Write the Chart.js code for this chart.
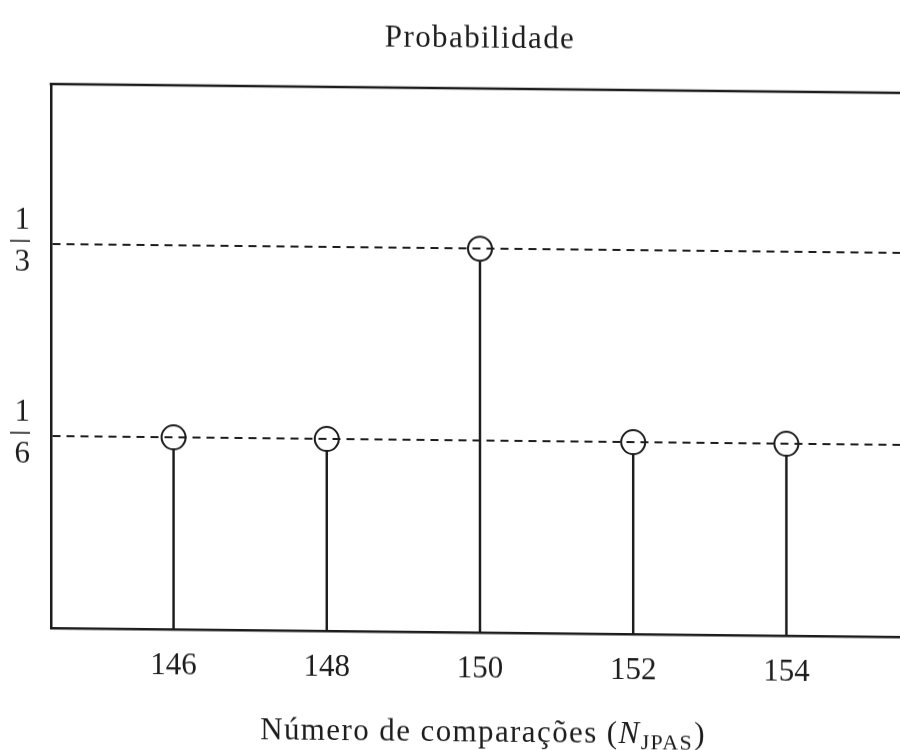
<!DOCTYPE html>
<html>
<head>
<meta charset="utf-8">
<script src="https://cdn.jsdelivr.net/npm/chart.js@4.4.1/dist/chart.umd.min.js"></script>
<style>
  html, body { margin: 0; padding: 0; background: #fff; overflow: hidden; width: 900px; height: 750px; }
  #wrap { position: absolute; left: 0; top: 0; width: 960px; height: 750px;
          transform-origin: 50px 0; transform: skewY(0.6deg); }
</style>
</head>
<body>
<div id="wrap"><canvas id="c" width="960" height="750"></canvas></div>
<script>
// Stem plot: probability of each number of comparisons
const comparisons = [146, 148, 150, 152, 154];
const probability = [1/6, 1/6, 1/3, 1/6, 1/6];
const xTickValues = [146, 148, 150, 152, 154];
const yTickValues = [1/6, 1/3];
const yTickLabels = [['1', '6'], ['1', '3']];
const titleText = 'Probabilidade';
const xLabelMain = 'Número de comparações (';
const xLabelVar = 'N';
const xLabelSub = 'JPAS';
const xLabelEnd = ')';

const INK = '#1c1c1c';
const SERIF = '"Liberation Serif", "DejaVu Serif", serif';
const TEXT_SIZE = 31;
const SPACING = 1.4; // extra tracking for the wider look of the labels

const points = comparisons.map((x, i) => ({ x, y: probability[i] }));

function setSpacing(ctx, px) {
  if ('letterSpacing' in ctx) ctx.letterSpacing = px + 'px';
}

const decorations = {
  id: 'decorations',
  afterDraw(chart) {
    const { ctx, chartArea: a, scales } = chart;
    const cx = (a.left + a.right) / 2;
    ctx.save();
    // top edge of the frame
    ctx.strokeStyle = INK;
    ctx.lineWidth = 2.5;
    ctx.beginPath();
    ctx.moveTo(a.left - 1.25, a.top);
    ctx.lineTo(a.right, a.top);
    ctx.stroke();

    // fraction bars of the y tick labels
    ctx.lineWidth = 1.6;
    yTickValues.forEach(v => {
      const y = scales.y.getPixelForValue(v) - 3;
      ctx.beginPath();
      ctx.moveTo(10, y);
      ctx.lineTo(30, y);
      ctx.stroke();
    });

    // title
    ctx.fillStyle = INK;
    ctx.textBaseline = 'alphabetic';
    ctx.textAlign = 'left';
    setSpacing(ctx, SPACING);
    ctx.font = TEXT_SIZE + 'px ' + SERIF;
    const tw = ctx.measureText(titleText).width;
    ctx.fillText(titleText, cx - tw / 2, 43);

    // x axis title with subscript
    const mainFont = TEXT_SIZE + 'px ' + SERIF;
    const varFont = 'italic ' + TEXT_SIZE + 'px ' + SERIF;
    const subFont = Math.round(TEXT_SIZE * 0.72) + 'px ' + SERIF;
    ctx.font = mainFont; const w1 = ctx.measureText(xLabelMain).width;
    ctx.font = varFont;  const w2 = ctx.measureText(xLabelVar).width;
    ctx.font = subFont;  const w3 = ctx.measureText(xLabelSub).width;
    ctx.font = mainFont; const w4 = ctx.measureText(xLabelEnd).width;
    const total = w1 + w2 + w3 + w4 + 1;
    let x = cx + 3 - total / 2;
    const base = 737;
    ctx.font = mainFont; ctx.fillText(xLabelMain, x, base); x += w1;
    ctx.font = varFont;  ctx.fillText(xLabelVar, x, base); x += w2;
    ctx.font = subFont;  ctx.fillText(xLabelSub, x, base + 6); x += w3 + 1;
    ctx.font = mainFont; ctx.fillText(xLabelEnd, x, base);
    ctx.restore();
  }
};

new Chart(document.getElementById('c'), {
  type: 'bar',
  data: {
    datasets: [
      {
        type: 'bar',
        data: points,
        backgroundColor: INK,
        barThickness: 1.8,
        order: 2
      },
      {
        type: 'scatter',
        data: points,
        pointStyle: 'circle',
        pointRadius: 12,
        pointBorderWidth: 2,
        pointBackgroundColor: '#fff',
        pointBorderColor: INK,
        order: 1
      }
    ]
  },
  plugins: [decorations],
  options: {
    responsive: false,
    animation: false,
    devicePixelRatio: 1,
    layout: { padding: { left: 0, top: 84, right: 51, bottom: 0 } },
    plugins: { legend: { display: false }, tooltip: { enabled: false }, title: { display: false } },
    scales: {
      x: {
        type: 'linear',
        offset: false,
        min: 144.4,
        max: 155.6,
        afterFit(s) { s.height = 122; },
        afterBuildTicks(s) { s.ticks = xTickValues.map(v => ({ value: v })); },
        grid: { display: false, drawTicks: false, offset: false },
        border: { display: true, color: INK, width: 2.5 },
        ticks: {
          color: INK,
          font: { family: SERIF, size: TEXT_SIZE },
          padding: 18,
          maxRotation: 0,
          callback: v => String(v)
        }
      },
      y: {
        type: 'linear',
        min: 0,
        max: 0.4725,
        afterFit(s) { s.width = 51; },
        afterBuildTicks(s) { s.ticks = yTickValues.map(v => ({ value: v })); },
        grid: {
          display: true,
          drawTicks: false,
          color: INK,
          lineWidth: 2,
          z: 1
        },
        // the dash applies to the horizontal grid lines; the axis line stays solid
        border: { display: true, color: INK, width: 2.5, dash: [8, 6], z: 2 },
        ticks: {
          color: INK,
          font: { family: SERIF, size: TEXT_SIZE, lineHeight: 1.36 },
          padding: 21,
          labelOffset: -2,
          crossAlign: 'near',
          callback: (v, i) => yTickLabels[i]
        }
      }
    }
  }
});
</script>
</body>
</html>
